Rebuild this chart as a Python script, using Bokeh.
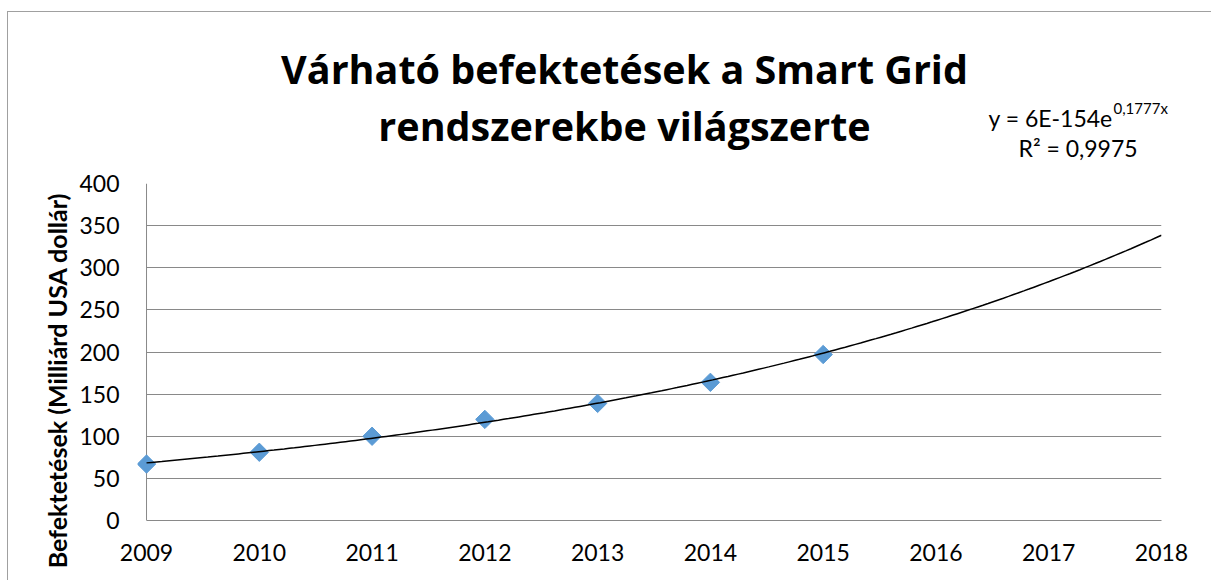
import numpy as np
from bokeh.plotting import figure
from bokeh.models import Label, FixedTicker, Range1d, Span
from bokeh.embed import file_html
from bokeh.resources import INLINE

# ---- data ----
years = [2009, 2010, 2011, 2012, 2013, 2014, 2015]
invest = [67, 81, 100, 120, 139, 164, 197]
x_ticks = [2009, 2010, 2011, 2012, 2013, 2014, 2015, 2016, 2017, 2018]
y_ticks = [0, 50, 100, 150, 200, 250, 300, 350, 400]
title_text = "Várható befektetések a Smart Grid\nrendszerekbe világszerte"
y_label = "Befektetések  (Milliárd USA dollár)"
eq_main = "y = 6E-154e"
eq_exp = "0,1777x"
eq_r2 = "R² = 0,9975"

FONT = "Lato"
TITLE_FONT = "Open Sans"
GRID = "#898989"
BORDER = "#a0a0a0"
PAD_YEARS = 0.08   # small room left of the y axis so the first marker is not cut

# exponential trendline fitted from the data (least squares on log values)
b, ln_a = np.polyfit(np.array(years, dtype=float) - years[0], np.log(invest), 1)
trend_x = np.linspace(x_ticks[0], x_ticks[-1], 200)
trend_y = np.exp(ln_a + b * (trend_x - years[0]))

p = figure(width=1211, height=590, output_backend="svg", toolbar_location=None,
           x_range=Range1d(x_ticks[0] - PAD_YEARS, x_ticks[-1]),
           y_range=Range1d(y_ticks[0], y_ticks[-1]),
           min_border_left=137, min_border_right=50, min_border_top=193, min_border_bottom=60)
# chart-area border (top and left edges visible in the window)
p.styles = {"margin-top": "-10px",
            "background": (f"linear-gradient({BORDER},{BORDER}) 7px 21px / 100% 1px no-repeat, "
                           f"linear-gradient({BORDER},{BORDER}) 7px 21px / 1px 100% no-repeat, white")}
p.border_fill_color = None
p.background_fill_color = "white"
p.outline_line_color = None

p.xaxis.ticker = FixedTicker(ticks=x_ticks)
p.yaxis.ticker = FixedTicker(ticks=y_ticks)
p.xaxis.bounds = (x_ticks[0], x_ticks[-1])
for ax in (p.xaxis, p.yaxis):
    ax.major_tick_line_color = None
    ax.minor_tick_line_color = None
    ax.axis_line_color = GRID
    ax.major_label_text_font = FONT
    ax.major_label_text_font_size = "23px"
    ax.major_label_text_color = "black"
p.yaxis.axis_line_color = None
p.xaxis.major_label_standoff = 17
p.yaxis.major_label_standoff = 12
p.xgrid.grid_line_color = None
p.ygrid.grid_line_color = GRID
try:
    p.ygrid.cross_bounds = (x_ticks[0], x_ticks[-1])
except Exception:
    pass

# vertical axis line at the first category
p.add_layout(Span(location=x_ticks[0], dimension="height", line_color=GRID,
                  line_width=1, level="underlay"))

p.scatter(years, invest, marker="square", angle=np.pi / 4, size=13,
          fill_color="#5B9BD5", line_color="#5B9BD5")
p.line(trend_x, trend_y, line_color="black", line_width=1.5)

# trendline equation (above panels, closest to the plot area)
p.add_layout(Label(x=851, y=66, x_units="screen", y_units="screen", text=eq_main,
                   text_align="left", text_baseline="alphabetic", text_font=FONT,
                   text_font_size="23px", text_color="black"), "above")
p.add_layout(Label(x=976, y=48, x_units="screen", y_units="screen", text=eq_exp,
                   text_align="left", text_baseline="alphabetic", text_font=FONT,
                   text_font_size="15px", text_color="black"), "above")
p.add_layout(Label(x=881, y=-10, x_units="screen", y_units="screen", text=eq_r2,
                   text_align="left", text_baseline="alphabetic", text_font=FONT,
                   text_font_size="23px", text_color="black"), "above")
# title (outermost above panel)
p.add_layout(Label(x=487, y=-44, x_units="screen", y_units="screen", text=title_text,
                   text_align="center", text_baseline="bottom", text_line_height=1.06,
                   text_font=TITLE_FONT, text_font_style="bold", text_font_size="39.5px",
                   text_color="black"), "above")
# y axis label (left panel)
p.add_layout(Label(x=10, y=143, x_units="screen", y_units="screen", text=y_label,
                   angle=np.pi / 2, text_align="center", text_baseline="middle",
                   text_font=FONT, text_font_style="bold", text_font_size="25px",
                   text_color="black"), "left")

open("out.html", "w").write(file_html(p, INLINE))
